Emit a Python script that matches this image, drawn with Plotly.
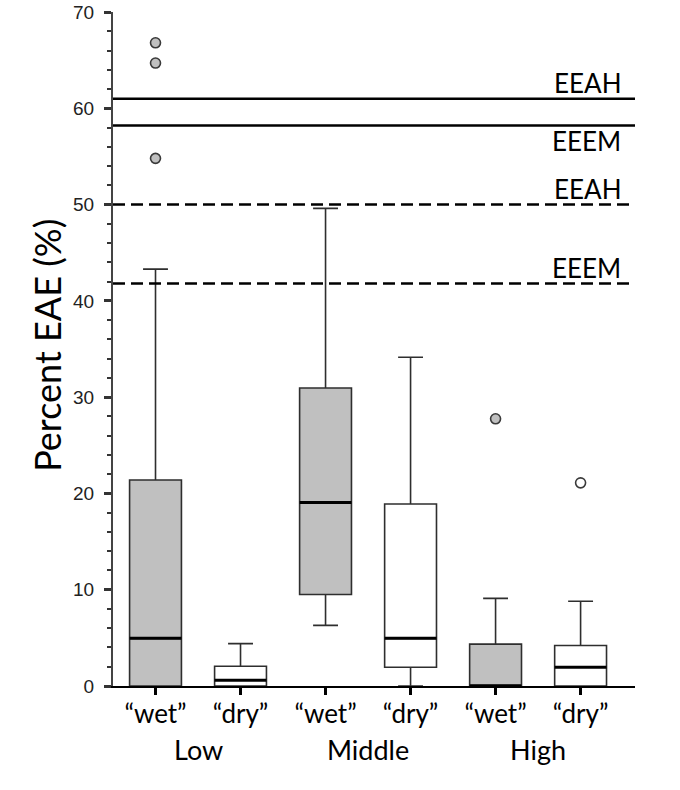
import plotly.graph_objects as go

# ---- data ----
groups = ["Low", "Middle", "High"]
conditions = ["“wet”", "“dry”", "“wet”", "“dry”", "“wet”", "“dry”"]
is_wet = [True, False, True, False, True, False]
lower_whisker = [0.0, 0.0, 6.3, 0.0, 0.0, 0.0]
q1_vals = [0.0, 0.0, 9.5, 1.95, 0.0, 0.0]
median_vals = [4.95, 0.6, 19.05, 4.95, 0.0, 1.95]
q3_vals = [21.4, 2.05, 30.95, 18.9, 4.35, 4.2]
upper_whisker = [43.3, 4.4, 49.6, 34.15, 9.1, 8.8]
outlier_vals = [[54.8, 64.7, 66.8], [], [], [], [27.75], [21.1]]

ref_values = [61.0, 58.2, 50.0, 41.8]
ref_labels = ["EEAH", "EEEM", "EEAH", "EEEM"]
ref_dash = ["solid", "solid", "12px,6px", "12px,6px"]
ref_label_above = [True, False, True, True]

y_ticks = [0, 10, 20, 30, 40, 50, 60, 70]

# ---- style ----
WET_FILL = "#c0c0c0"
DRY_FILL = "#ffffff"
EDGE = "#2e2e2e"
LABEL_FONT = "Lato, Carlito, Calibri, sans-serif"
TICK_FONT = "Arial, Liberation Sans, sans-serif"
BOX_W = 0.61

positions = list(range(len(conditions)))

fig = go.Figure()

for i, pos in enumerate(positions):
    fig.add_trace(go.Box(
        x=[pos],
        q1=[q1_vals[i]], median=[median_vals[i]], q3=[q3_vals[i]],
        lowerfence=[lower_whisker[i]], upperfence=[upper_whisker[i]],
        width=BOX_W, whiskerwidth=0.48,
        fillcolor=WET_FILL if is_wet[i] else DRY_FILL,
        line=dict(color=EDGE, width=1.6),
        boxpoints=False, showlegend=False, hoverinfo="skip",
    ))

# thicker median lines
fig.add_trace(go.Scatter(
    x=positions, y=median_vals, mode="markers",
    marker=dict(size=1, color="rgba(0,0,0,0)"),
    error_x=dict(type="constant", value=BOX_W / 2, width=0,
                 thickness=3, color="#000000"),
    showlegend=False, hoverinfo="skip", cliponaxis=False,
))

# outliers
for i, pos in enumerate(positions):
    if outlier_vals[i]:
        fig.add_trace(go.Scatter(
            x=[pos] * len(outlier_vals[i]), y=outlier_vals[i], mode="markers",
            marker=dict(size=10, color=WET_FILL if is_wet[i] else DRY_FILL,
                        line=dict(color="#3a3a3a", width=1.6)),
            showlegend=False, hoverinfo="skip",
        ))

# reference lines + labels
for v, lab, d, above in zip(ref_values, ref_labels, ref_dash, ref_label_above):
    fig.add_shape(type="line", xref="paper", x0=0, x1=1, yref="y", y0=v, y1=v,
                  line=dict(color="#000000", width=2.5, dash=d))
    fig.add_annotation(xref="paper", x=1, yref="y", y=v, text=lab,
                       showarrow=False, xanchor="right", yanchor="middle",
                       xshift=-12, yshift=16 if above else -15,
                       font=dict(family=LABEL_FONT, size=26, color="#000000"))

# group labels
for g_i, g in enumerate(groups):
    fig.add_annotation(xref="x", x=(positions[2 * g_i] + positions[2 * g_i + 1]) / 2,
                       yref="paper", y=-0.094, text=g, showarrow=False,
                       xanchor="center", yanchor="middle",
                       font=dict(family=LABEL_FONT, size=27, color="#000000"))

# y-axis title
fig.add_annotation(xref="paper", x=-0.128, yref="paper", y=0.505,
                   text="Percent EAE (%)", textangle=-90, showarrow=False,
                   xanchor="center", yanchor="middle",
                   font=dict(family=LABEL_FONT, size=36, color="#000000"))

fig.update_layout(
    width=680, height=790,
    margin=dict(l=113, r=45, t=12, b=104),
    paper_bgcolor="white", plot_bgcolor="white",
    boxmode="overlay", showlegend=False,
)
fig.update_xaxes(
    range=[-0.5, 5.64], tickmode="array", tickvals=positions, ticktext=conditions,
    showgrid=False, zeroline=False, showline=True, linecolor="#000000", linewidth=1.5,
    ticks="outside", ticklen=7, tickwidth=2.5, tickcolor="#000000",
    tickfont=dict(family=LABEL_FONT, size=26, color="#000000"),
    ticklabelstandoff=-3, automargin=False,
)
fig.update_yaxes(
    range=[0, 70.0001], tickmode="array", tickvals=y_ticks,
    showgrid=False, zeroline=False, showline=True, linecolor="#444444", linewidth=2,
    ticks="outside", ticklen=7, tickwidth=2.5, tickcolor="#333333",
    minor=dict(dtick=2, ticks="outside", ticklen=4, tickwidth=2, tickcolor="#333333"),
    tickfont=dict(family=TICK_FONT, size=19, color="#222222"),
    ticklabelstandoff=6, ticklabeloverflow="allow", automargin=False,
)

fig.write_html("out.html", config={"displayModeBar": False},
               post_script="document.body.style.margin='0px';")
